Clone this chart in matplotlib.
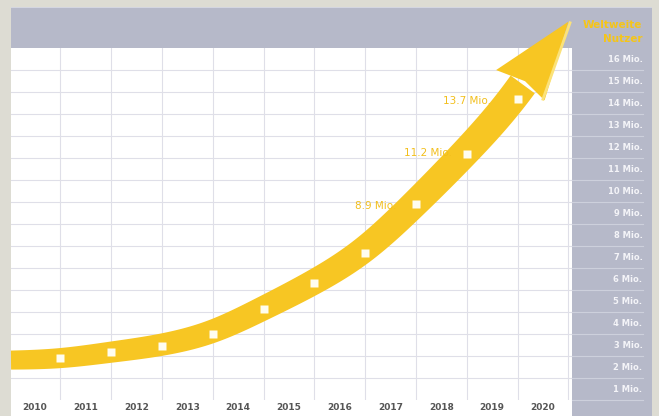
import matplotlib
matplotlib.use("Agg")
import matplotlib.pyplot as plt
from matplotlib.patches import Rectangle, Polygon
import numpy as np

# data (million visitors at the end of each year)
years = [2010, 2011, 2012, 2013, 2014, 2015, 2016, 2017, 2018, 2019]
visitors = [1.9, 2.2, 2.45, 3.0, 4.15, 5.3, 6.7, 8.9, 11.2, 13.7]
tick_years = list(range(2010, 2021))
scale_labels = [f"{k} Mio." for k in range(1, 17)]
point_labels = {2017: "8.9 Mio.", 2018: "11.2 Mio.", 2019: "13.7 Mio."}
header_text = "Weltweite\nNutzer"

W, H = 659, 416
BEIGE = "#dddcd3"
BAND = "#b6b9c9"
YELLOW = "#f7c623"
GRID = "#dfdfe8"

fig = plt.figure(figsize=(W / 100, H / 100), dpi=100, facecolor="white")

# background frames (figure pixel coords)
def frect(x0, y0, x1, y1, color):
    fig.patches.append(Rectangle((x0 / W, 1 - y1 / H), (x1 - x0) / W, (y1 - y0) / H,
                                 transform=fig.transFigure, facecolor=color,
                                 edgecolor="none", zorder=-5))

frect(0, 0, W, 7, BEIGE)
frect(0, 0, 11, H, BEIGE)
frect(652, 0, W, H, BEIGE)
frect(11, 7, 652, 48, BAND)
frect(11, 7, 652, 8, "#d4d6e0")
frect(572, 48, 652, H, BAND)

# main axes
ax = fig.add_axes([11 / W, 16 / H, 561 / W, 352 / H])
ax.set_facecolor("white")
ax.set_xlim(2009.53, 2020.57)
ax.set_ylim(0, 16)
for s in ax.spines.values():
    s.set_visible(False)

for k in range(1, 16):
    ax.axhline(k, color=GRID, lw=0.8, zorder=0)
for y in tick_years:
    ax.axvline(y + 0.5, color=GRID, lw=0.8, zorder=0)

ax.set_xticks(tick_years)
ax.set_xticklabels([str(y) for y in tick_years], fontsize=6.5, fontweight="bold", color="#555555")
ax.tick_params(axis="x", length=0, pad=2.5)
ax.set_yticks([])


def natural_spline(x, y, xq):
    x = np.asarray(x, float)
    y = np.asarray(y, float)
    h = np.diff(x)
    n = len(x)
    A = np.zeros((n, n))
    r = np.zeros(n)
    A[0, 0] = A[-1, -1] = 1
    for i in range(1, n - 1):
        A[i, i - 1] = h[i - 1]
        A[i, i] = 2 * (h[i - 1] + h[i])
        A[i, i + 1] = h[i]
        r[i] = 6 * ((y[i + 1] - y[i]) / h[i] - (y[i] - y[i - 1]) / h[i - 1])
    M = np.linalg.solve(A, r)
    i = np.clip(np.searchsorted(x, xq) - 1, 0, n - 2)
    hi = h[i]
    a = x[i + 1] - xq
    b = xq - x[i]
    return (M[i] * a ** 3 + M[i + 1] * b ** 3) / (6 * hi) \
        + (y[i] / hi - M[i] * hi / 6) * a + (y[i + 1] / hi - M[i + 1] * hi / 6) * b


# arrow: smoothed trend through the points, shape built in pixels then mapped back to data
xs = [y + 0.5 for y in years]
fit_x = [2009.53] + xs + [2020.5]
fit_y = [1.8] + visitors + [17.2]
wts = [1] * (len(fit_x) - 1) + [6]
coef = np.polyfit(np.array(fit_x) - 2015, fit_y, 4, w=wts)
cx = np.linspace(2009.53, 2020.5, 400)
cy = 0.5 * np.polyval(coef, cx - 2015) + 0.5 * natural_spline(fit_x, fit_y, cx)
to_pix = ax.transData
to_data = ax.transData.inverted()
curve = to_pix.transform(np.column_stack([cx, cy]))

seg = np.hypot(*np.diff(curve, axis=0).T)
arc = np.concatenate([[0], np.cumsum(seg)])
head_len = 80
cut = np.searchsorted(arc, arc[-1] - head_len)
shaft = curve[:cut + 1]
tang = np.gradient(shaft, axis=0)
tang /= np.hypot(*tang.T)[:, None]
norm = np.column_stack([-tang[:, 1], tang[:, 0]])
half = np.linspace(9.5, 15, len(shaft))[:, None]
lift = np.linspace(0, 3, len(shaft))[:, None]
ribbon = np.vstack([shaft + norm * (half + lift), (shaft - norm * (half - lift))[::-1]])
ax.add_patch(Polygon(to_data.transform(ribbon), closed=True,
                     facecolor=YELLOW, edgecolor="none", clip_on=False, zorder=3))

tip = curve[-1]
base = shaft[-1] + norm[-1] * 3
d = (tip - base) / np.hypot(*(tip - base))
n = np.array([-d[1], d[0]])
head = np.array([base + n * 30 - d * 4, tip, base - n * 27, base + d * 4])
ax.add_patch(Polygon(to_data.transform(head), closed=True,
                     facecolor=YELLOW, edgecolor="none", clip_on=False, zorder=3))
edge = to_data.transform(np.array([tip - n * 2, base - n * 25]))
ax.plot(edge[:, 0], edge[:, 1], color="#fbe27a", lw=2, clip_on=False, zorder=4)

# white square markers
ax.plot(xs, visitors, ls="none", marker="s", ms=5.5, mfc="#fffdf0", mec="none", zorder=5)

offsets = {2017: (-14, -1.5), 2018: (-11, 0.5), 2019: (-19, -2)}
for y, v in zip(years, visitors):
    if y in point_labels:
        ax.annotate(point_labels[y], (y + 0.5, v), xytext=offsets[y], textcoords="offset points",
                    ha="right", va="center", fontsize=7.5, color="#f2bf1c", zorder=6)

# right scale panel
ax2 = fig.add_axes([572 / W, 16 / H, 80 / W, 352 / H])
ax2.set_facecolor("none")
ax2.set_xlim(0, 1)
ax2.set_ylim(0, 16)
ax2.axis("off")
for k in range(0, 16):
    ax2.plot([0, 0.89], [k, k], color="#cdd0dc", lw=0.8, clip_on=False)
for k, lab in enumerate(scale_labels, start=1):
    ax2.text(0.88, k - 0.5, lab, ha="right", va="center", fontsize=6,
             fontweight="bold", color="#f4f4f8")

fig.text(642 / W, 1 - 32 / H, header_text, ha="right", va="center", fontsize=7.5,
         fontweight="bold", color="#f5c518", linespacing=1.5)

fig.savefig("out.png", dpi=100, facecolor=fig.get_facecolor())
